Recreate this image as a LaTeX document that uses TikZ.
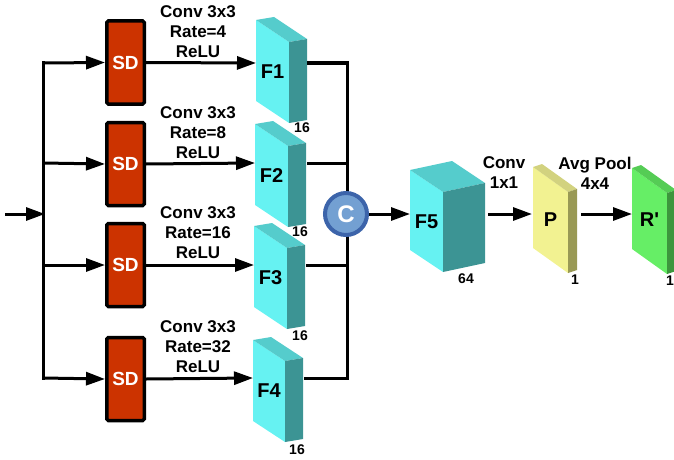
\documentclass[tikz,border=0pt]{standalone}
\usepackage{fontspec}
\setmainfont{Liberation Sans}
\usetikzlibrary{arrows.meta,calc}
\definecolor{sdred}{HTML}{CC3300}
\definecolor{cyfront}{HTML}{66F2F2}
\definecolor{cytop}{HTML}{55CCCC}
\definecolor{cyside}{HTML}{3C9494}
\definecolor{yefront}{HTML}{F2F291}
\definecolor{yetop}{HTML}{D2D27F}
\definecolor{yeside}{HTML}{999955}
\definecolor{grfront}{HTML}{66EE66}
\definecolor{grtop}{HTML}{55CC55}
\definecolor{grside}{HTML}{3D963D}
\definecolor{cfill}{HTML}{73A0D2}
\definecolor{cedge}{HTML}{3C64AA}
% #1 a, #2 top y, #3 width, #4 drop, #5 dx, #6 dy, #7 height, #8 colour prefix
\newcommand{\featblock}[8]{%
  \fill[#8front] (#1,#2) -- ({#1+#3},{#2+#4}) -- ({#1+#3},{#2+#4+#7}) -- (#1,{#2+#7}) -- cycle;
  \fill[#8top] (#1,#2) -- ({#1+#5},{#2+#6}) -- ({#1+#3+#5},{#2+#4+#6}) -- ({#1+#3},{#2+#4}) -- cycle;
  \fill[#8side] ({#1+#3},{#2+#4}) -- ({#1+#3+#5},{#2+#4+#6}) -- ({#1+#3+#5},{#2+#4+#6+#7}) -- ({#1+#3},{#2+#4+#7}) -- cycle;
}
\begin{document}
\begin{tikzpicture}[x=1pt,y=-1pt,
  conn/.style={line width=3pt},
  arr/.style={line width=3pt,-{Triangle[length=19pt,width=13pt]}},
  sdbox/.style={draw=black,line width=3.5pt,fill=sdred,rounded corners=1.5pt,
    minimum width=37.5pt,minimum height=83pt,inner sep=0pt,text=white,
    font=\bfseries\fontsize{19}{19}\selectfont},
  lab/.style={font=\bfseries\fontsize{17}{20}\selectfont,align=center,inner sep=0pt},
  blab/.style={font=\bfseries\fontsize{20}{20}\selectfont,inner sep=0pt},
  slab/.style={font=\bfseries\fontsize{14}{14}\selectfont,inner sep=0pt},
  cnode/.style={circle,draw=cedge,line width=4pt,fill=cfill,minimum size=42pt,
    inner sep=0pt,text=white,font=\bfseries\fontsize{24}{24}\selectfont}]
\useasboundingbox (0,0) rectangle (674,460);

% feature blocks
\featblock{256}{20}{33}{22}{18}{-3}{81}{cy}
\featblock{255}{124}{33}{22}{18}{-3}{81}{cy}
\featblock{254}{226}{33}{22}{18}{-3}{81}{cy}
\featblock{253}{340}{32}{21}{18}{-3}{81}{cy}
\featblock{410}{170}{33}{22}{42}{-9}{80}{cy}
\featblock{533}{167}{35}{25}{9}{-3}{81}{ye}
\featblock{632}{168}{35}{25}{9}{-3}{81}{gr}

\node[blab] (F1) at (272.5,71.5) {F1};
\node[blab] (F2) at (271.5,175.5) {F2};
\node[blab] (F3) at (270.5,277.5) {F3};
\node[blab] (F4) at (269,391) {F4};
\node[blab] (F5) at (426.5,222) {F5};
\node[blab] (P) at (550.5,220) {P};
\node[blab] (R) at (649.5,220) {R\textquotesingle};

\node[slab] (s1) at (302,128) {16};
\node[slab] (s2) at (300,232) {16};
\node[slab] (s3) at (300,336) {16};
\node[slab] (s4) at (297,450) {16};
\node[slab] (s5) at (466,279) {64};
\node[slab] (s6) at (575,280) {1};
\node[slab] (s7) at (670,281) {1};

% SD boxes
\node[sdbox] (SD1) at (125.5,62.5) {SD};
\node[sdbox] (SD2) at (125.5,164) {SD};
\node[sdbox] (SD3) at (125.5,265) {SD};
\node[sdbox] (SD4) at (125.5,379) {SD};

% coordinates
\coordinate (in) at (5,214);
\coordinate (bm) at (45,214);
\coordinate (b1) at (43,63);
\coordinate (b2) at (43,163);
\coordinate (b3) at (43,265);
\coordinate (b4) at (43,378);
\coordinate (F1w) at (256,63);
\coordinate (F2w) at (255,163);
\coordinate (F3w) at (254,265);
\coordinate (F4w) at (253,378);
\coordinate (F1e) at (308,63);
\coordinate (F2e) at (307,163);
\coordinate (F3e) at (306,265);
\coordinate (F4e) at (305,378);
\coordinate (j1) at (347,63);
\coordinate (j2) at (347,163);
\coordinate (j3) at (347,265);
\coordinate (j4) at (347,378);
\coordinate (F5w) at (410,214);
\coordinate (F5e) at (488,214);
\coordinate (Pw) at (532,214);
\coordinate (Pe) at (581,214);
\coordinate (Rw) at (632,214);

% left tree
\draw[arr] (in) -- (bm);
\draw[conn,line cap=rect] (b1) -- (b4);
\draw[arr] (b1) -- (SD1.west);
\draw[arr] (b2) -- (SD2.west);
\draw[arr] (b3) -- (SD3.west);
\draw[arr] (b4) -- (SD4.west);

\draw[arr] (SD1.east) -- (F1w);
\draw[arr] (SD2.east) -- (F2w);
\draw[arr] (SD3.east) -- (F3w);
\draw[arr] (SD4.east) -- (F4w);

\node[lab] (L1) at (198,32) {Conv 3x3\\Rate=4\\ReLU};
\node[lab] (L2) at (198,133) {Conv 3x3\\Rate=8\\ReLU};
\node[lab] (L3) at (198,233) {Conv 3x3\\Rate=16\\ReLU};
\node[lab] (L4) at (198,347) {Conv 3x3\\Rate=32\\ReLU};

% right collector
\draw[conn,line cap=rect,line join=miter] (F1e) -- (j1) -- (j4) -- (F4e);
\draw[conn] (F2e) -- (j2);
\draw[conn] (F3e) -- (j3);
\node[cnode] (C) at (346,214) {C};

\draw[arr] (C.east) -- (F5w);
\draw[arr] (F5e) -- (Pw);
\draw[arr] (Pe) -- (Rw);

\node[lab] (L5) at (504,173) {Conv\\1x1};
\node[lab] (L6) at (595,173) {Avg Pool\\4x4};
\end{tikzpicture}
\end{document}
